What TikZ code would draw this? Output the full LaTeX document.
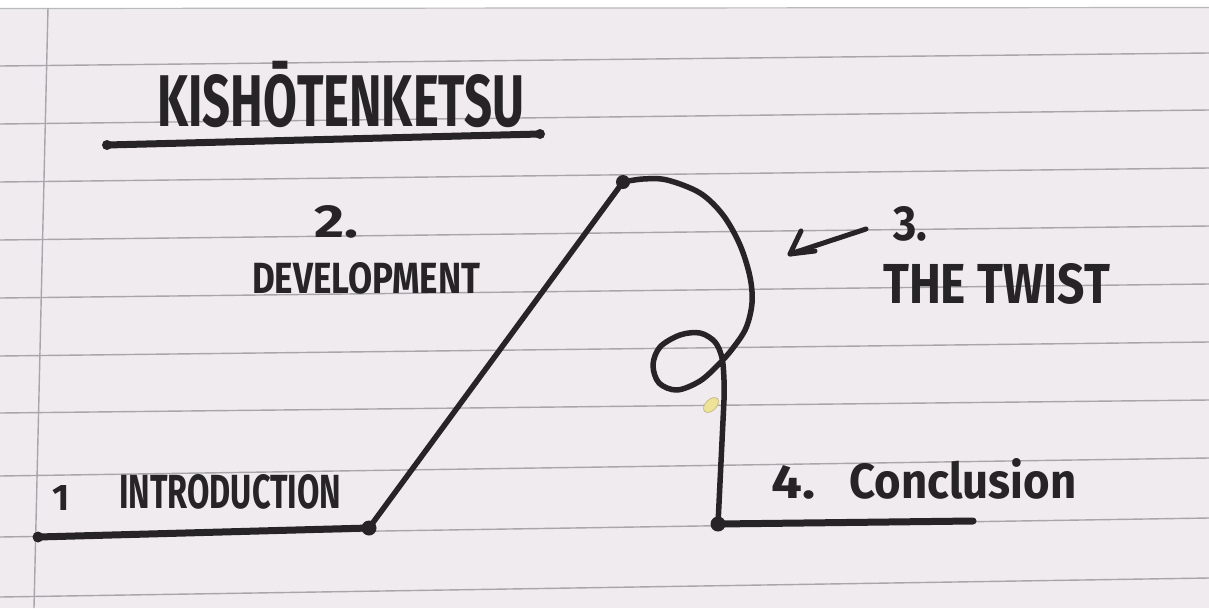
\documentclass[tikz,border=0pt]{standalone}
\usepackage{fontspec}
\setmainfont{Fira Sans}
\usepackage{graphicx}
\definecolor{paper}{RGB}{239,235,238}
\definecolor{rulec}{RGB}{168,166,170}
\definecolor{ink}{RGB}{38,36,38}
\definecolor{crumb}{RGB}{238,226,150}
\newcommand{\hw}[3]{\resizebox{#1pt}{#2pt}{\bfseries #3}}
\tikzset{
  rule/.style={draw=rulec, line width=1.4pt},
  pen/.style={draw=ink, line width=5.5pt, line cap=round, line join=round},
  thickpen/.style={draw=ink, line width=7pt, line cap=round, line join=round},
  inkdot/.style={circle, fill=ink, inner sep=0pt},
  label/.style={anchor=north west, inner sep=0pt, text=ink},
}
\begin{document}
\begin{tikzpicture}[x=1pt,y=-1pt]
\useasboundingbox (0,0) rectangle (1209,608);
% paper
\fill[white] (0,0) rectangle (1209,608);
\fill[paper] (0,8) rectangle (1209,608);
\draw[draw=rulec!80, line width=1.2pt] (0,8.5) -- (1209,7.5);
\foreach \a/\b in {66/53, 124/110, 182/168, 240/226, 298/284, 356/342, 413/400, 476/458, 537/518, 597/578}
  \draw[rule] (0,\a) -- (1209,\b);
\draw[rule] (48,8) -- (34,608);
% crumb
\fill[crumb, draw=crumb!80!black, line width=0.6pt, rotate around={45:(711,405)}] (711,405) ellipse (9 and 5.5);
% title
\node[label] (title) at (157,74) {\hw{367}{52}{KISH\smash{Ō}TENKETSU}};
\coordinate (ul1) at (107,145);
\coordinate (ul2) at (540,134);
\draw[thickpen] (ul1) -- (ul2);
\fill[ink] (ul1) circle (5);
\fill[ink] (ul2) circle (5);
% stations
\coordinate (s) at (38,537);
\node[inkdot, minimum size=11pt] (p0) at (s) {};
\node[inkdot, minimum size=15pt] (p1) at (369,528) {};
\node[inkdot, minimum size=14pt] (p2) at (623,182) {};
\node[inkdot, minimum size=15pt] (p3) at (718,524) {};
\coordinate (e) at (973,521);
% main line
\draw[thickpen] (p0.center) -- (p1.center);
\draw[pen] (p1.center) -- (p2.center);
\draw[pen] plot[smooth, tension=0.55] coordinates {
  (p2.center) (643,179) (667,180) (700,193) (723,215) (740,245) (750,277)
  (752,303) (746,328) (733,348) (719,364) (700,381) (677,390) (659,383)
  (653,365) (660,347) (680,335) (700,333) (715,342) (722,358) (724,380) (724,400)}
  -- (p3.center);
\draw[thickpen] (p3.center) -- (e);
% arrow to the twist
\coordinate (atail) at (866,229);
\coordinate (atip) at (790,254);
\coordinate (ab1) at (801,231);
\coordinate (ab2) at (815,251);
\draw[pen, line width=5pt] (atail) -- (atip);
\draw[pen, line width=5pt] (ab1) -- (atip) -- (ab2);
% labels
\node[label] (n2) at (314,205) {\hw{44}{32}{2.}};
\node[label] (dev) at (252,262) {\hw{228}{31}{DEVELOPMENT}};
\node[label] (n1) at (52,485) {\resizebox{!}{25pt}{\bfseries 1}};
\node[label] (intro) at (119,474) {\hw{222}{34}{INTRODUCTION}};
\node[label] (n3) at (893,206) {\hw{34}{34}{3.}};
\node[label] (twist) at (883,263) {\hw{227}{40}{THE TWIST}};
\node[label] (n4) at (771,465) {\hw{44}{33}{4.}};
\node[label] (concl) at (849,458) {\hw{227}{40}{Conclusion}};
\end{tikzpicture}
\end{document}
